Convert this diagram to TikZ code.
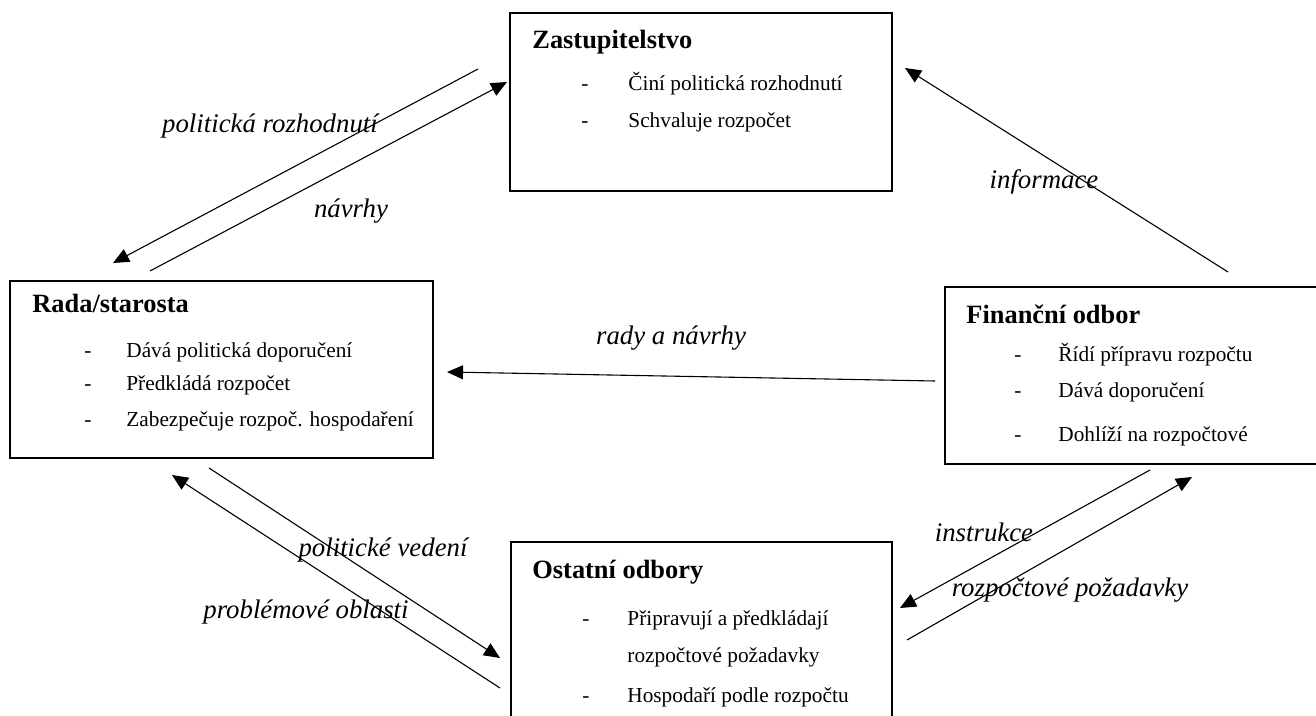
\documentclass[tikz,border=0pt]{standalone}
\usepackage{fontspec}
\setmainfont{Liberation Serif}
\usetikzlibrary{arrows.meta}

\begin{document}
\begin{tikzpicture}[x=0.5pt, y=-0.5pt,
  box/.style={draw, line width=1pt, inner sep=0pt},
  head/.style={anchor=west, inner sep=0pt, font=\fontsize{13.2}{15}\bfseries},
  item/.style={anchor=west, inner sep=0pt, text height=7.5pt, text depth=2.4pt,
    font=\fontsize{10.65}{12}\selectfont},
  lbl/.style={inner sep=0pt, font=\fontsize{13.4}{15}\itshape},
  flow/.style={-{Triangle[length=8pt, width=7pt]}, line width=0.55pt}]
  \clip (0,0) rectangle (1316,716);

  % --- Zastupitelstvo ---
  \node[box, minimum width=191pt, minimum height=89pt] (zast) at (701,102) {};
  \node[head] (zastH) at (532,42) {Zastupitelstvo};
  \node[item] (zastD1) at (581,85) {-};
  \node[item] (zastI1) at (628,85) {Činí politická rozhodnutí};
  \node[item] (zastD2) at (581,122) {-};
  \node[item] (zastI2) at (628,122) {Schvaluje rozpočet};

  % --- Rada/starosta ---
  \node[box, minimum width=211.5pt, minimum height=88.5pt] (rada) at (221.5,369.5) {};
  \node[head] (radaH) at (32,303) {Rada/starosta};
  \node[item] (radaD1) at (84,352) {-};
  \node[item] (radaI1) at (126,352) {Dává politická doporučení};
  \node[item] (radaD2) at (84,385) {-};
  \node[item] (radaI2) at (126,385) {Předkládá rozpočet};
  \node[item] (radaD3) at (84,421) {-};
  \node[item] (radaI3) at (126,421) {Zabezpečuje rozpoč. hospodaření};

  % --- Finanční odbor ---
  \node[box, minimum width=190pt, minimum height=88.5pt] (fin) at (1135,375.5) {};
  \node[head] (finH) at (966,314) {Finanční odbor};
  \node[item] (finD1) at (1014,356) {-};
  \node[item] (finI1) at (1058,356) {Řídí přípravu rozpočtu};
  \node[item] (finD2) at (1014,392) {-};
  \node[item] (finI2) at (1058,392) {Dává doporučení};
  \node[item] (finD3) at (1014,436) {-};
  \node[item] (finI3) at (1058,436) {Dohlíží na rozpočtové};

  % --- Ostatní odbory ---
  \node[box, minimum width=190.5pt, minimum height=104pt] (ost) at (701.5,646) {};
  \node[head] (ostH) at (532,572) {Ostatní odbory};
  \node[item] (ostD1) at (582,620) {-};
  \node[item] (ostI1) at (627,620) {Připravují a předkládají};
  \node[item] (ostI2) at (627,657) {rozpočtové požadavky};
  \node[item] (ostD2) at (582,697) {-};
  \node[item] (ostI3) at (627,697) {Hospodaří podle rozpočtu};

  % konce šipek
  \coordinate (navrhyA) at (150,271);
  \coordinate (navrhyB) at (507,82);
  \coordinate (rozhA) at (478,69);
  \coordinate (rozhB) at (113,263);
  \coordinate (infoA) at (1228,272);
  \coordinate (infoB) at (905,68);
  \coordinate (radyA) at (935,381);
  \coordinate (radyB) at (447,372);
  \coordinate (vedA) at (209,468);
  \coordinate (vedB) at (500,658);
  \coordinate (oblA) at (500,688);
  \coordinate (oblB) at (172,475);
  \coordinate (instA) at (1150,470);
  \coordinate (instB) at (900,608);
  \coordinate (pozA) at (907,640);
  \coordinate (pozB) at (1192,477);

  % šipky
  \draw[flow] (navrhyA) -- (navrhyB);
  \draw[flow] (rozhA) -- (rozhB);
  \draw[flow] (infoA) -- (infoB);
  \draw[flow] (radyA) -- (radyB);
  \draw[flow] (vedA) -- (vedB);
  \draw[flow] (oblA) -- (oblB);
  \draw[flow] (instA) -- (instB);
  \draw[flow] (pozA) -- (pozB);

  % popisky
  \node[lbl] (lRozh) at (270,126) {politická rozhodnutí};
  \node[lbl] (lNavrhy) at (351,211) {návrhy};
  \node[lbl] (lInfo) at (1044,182) {informace};
  \node[lbl] (lRady) at (671,338) {rady a návrhy};
  \node[lbl] (lVed) at (383,550) {politické vedení};
  \node[lbl] (lObl) at (306,612) {problémové oblasti};
  \node[lbl] (lInst) at (984,532) {instrukce};
  \node[lbl] (lPoz) at (1070,590) {rozpočtové požadavky};
\end{tikzpicture}
\end{document}
